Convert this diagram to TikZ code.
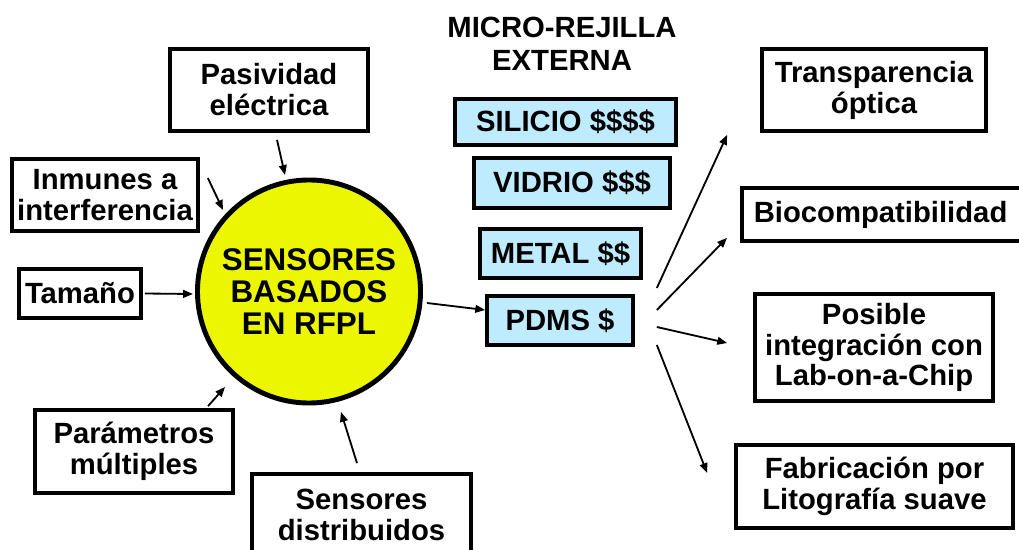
\documentclass[tikz,border=0pt]{standalone}
\usepackage{fontspec}
\setmainfont{Liberation Sans}
\usepackage{xcolor}
\usepackage{tikz}
\usetikzlibrary{arrows.meta}
\definecolor{celeste}{RGB}{191,235,255}
\definecolor{amarillo}{RGB}{236,246,0}
\newcommand{\letra}{\fontsize{20.8}{22}\selectfont\bfseries}
\tikzset{
	caja/.style={draw, line width=2.6pt, align=center, inner sep=0pt, font=\letra},
	material/.style={caja, fill=celeste},
	flecha/.style={-{Triangle[length=7pt,width=5.5pt]}, line width=1.3pt}
	}

\begin{document}
\begin{tikzpicture}[x=0.025cm, y=-0.025cm]

	\useasboundingbox (0,0) rectangle (1019,550);

	% sensor en el centro
	\node[draw, circle, line width=3.5pt, fill=amarillo, minimum size=5.575cm, inner sep=0pt, align=center,
		font=\fontsize{22.3}{22.7}\selectfont\bfseries] (sensor) at (309,291.5) {SENSORES\\BASADOS\\EN RFPL};

	% ventajas a la izquierda
	\node[caja, minimum width=4.95cm, minimum height=2.05cm] (pasiv) at (269,90) {Pasividad\\el\'ectrica};
	\node[caja, minimum width=4.65cm, minimum height=1.8cm] (inmun) at (105,195) {Inmunes a\\interferencia};
	\node[caja, minimum width=3.05cm, minimum height=1.225cm] (tamano) at (80,293.5) {Tama\~no};
	\node[caja, minimum width=4.95cm, minimum height=2.075cm] (param) at (134,451.5) {Par\'ametros\\m\'ultiples};
	\node[caja, minimum width=5.475cm, minimum height=2.05cm] (distrib) at (361.5,515) {Sensores\\distribuidos};

	\draw[flecha] ([shift={(8,7)}]pasiv.south) -- ([shift={(-24,-116.5)}]sensor.center);
	\draw[flecha] ([shift={(8,-17)}]inmun.east) -- ([shift={(-86,-81.5)}]sensor.center);
	\draw[flecha] ([shift={(2,0)}]tamano.east) -- ([shift={(-116,2.5)}]sensor.center);
	\draw[flecha] ([shift={(74,-2)}]param.north) -- ([shift={(-84,95.5)}]sensor.center);
	\draw[flecha] ([shift={(-4.5,-9)}]distrib.north) -- ([shift={(32,120.5)}]sensor.center);

	% materiales de la micro-rejilla
	\node[font=\fontsize{20.8}{23.4}\selectfont\bfseries, align=center] (titulo) at (562,44) {MICRO-REJILLA\\EXTERNA};
	\node[material, minimum width=5.525cm, minimum height=1.15cm] (silicio) at (565.5,122) {SILICIO \$\$\$\$};
	\node[material, minimum width=4.9cm, minimum height=1.25cm] (vidrio) at (572,183) {VIDRIO \$\$\$};
	\node[material, minimum width=4.025cm, minimum height=1.225cm] (metal) at (560.5,253.5) {METAL \$\$};
	\node[material, minimum width=3.65cm, minimum height=1.225cm] (pdms) at (560,320.5) {PDMS \$};

	\draw[flecha] ([shift={(118,11.5)}]sensor.center) -- ([shift={(0,-10.5)}]pdms.west);

	% ventajas del PDMS
	\node[caja, minimum width=5.6cm, minimum height=2.05cm] (transp) at (874,90) {Transparencia\\\'optica};
	\node[caja, anchor=west, align=left, text width=7.2cm, inner xsep=0.3cm, minimum height=1.325cm] (biocomp) at (740,214.5) {Biocompatibilidad};
	\node[caja, minimum width=5.95cm, minimum height=2.675cm] (integ) at (874,347.5) {Posible\\integraci\'on con\\Lab-on-a-Chip};
	\node[caja, minimum width=6.925cm, minimum height=2.075cm] (fabric) at (874.5,486.5) {Fabricaci\'on por\\Litograf\'ia suave};

	\draw[flecha] ([shift={(22,-32.5)}]pdms.east) -- ([shift={(-33,2)}]transp.south west);
	\draw[flecha] ([shift={(22,-10.5)}]pdms.east) -- ([shift={(-13,-5)}]biocomp.south west);
	\draw[flecha] ([shift={(22,6.5)}]pdms.east) -- ([shift={(-26,-4.5)}]integ.west);
	\draw[flecha] ([shift={(22,24.5)}]pdms.east) -- ([shift={(-27,-13.5)}]fabric.west);

\end{tikzpicture}
\end{document}
